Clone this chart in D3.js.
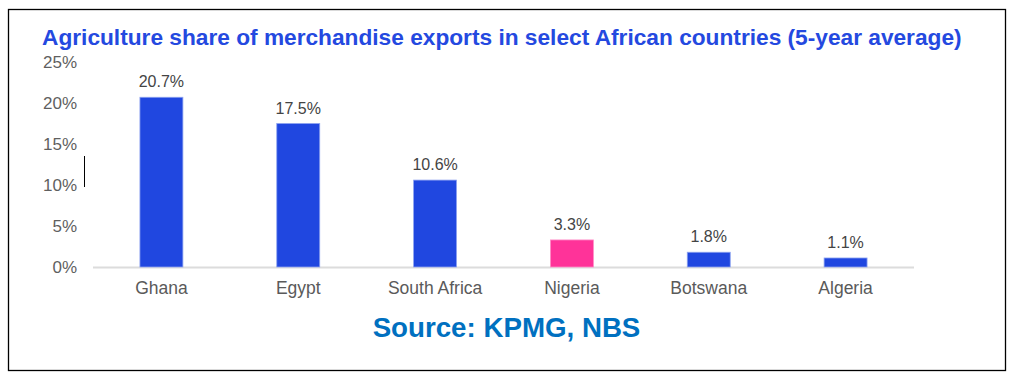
<!DOCTYPE html>
<html><head><meta charset="utf-8">
<script src="https://cdn.jsdelivr.net/npm/d3@7/dist/d3.min.js"></script>
<style>
html,body{margin:0;padding:0;background:#fff;}
svg{display:block;font-family:Arial,"Liberation Sans",sans-serif;}
</style></head>
<body><svg id="c" width="1015" height="383"></svg>
<script>
const categories = ["Ghana","Egypt","South Africa","Nigeria","Botswana","Algeria"];
const values = [20.7,17.5,10.6,3.3,1.8,1.1];
const highlight = ["Nigeria"];
const yTicks = [0,5,10,15,20,25];
const title = "Agriculture share of merchandise exports in select African countries (5-year average)";
const source = "Source: KPMG, NBS";

const svg = d3.select("#c");
svg.append("rect").attr("x",8.5).attr("y",9.5).attr("width",997).attr("height",361)
  .attr("fill","#fff").attr("stroke","#000").attr("stroke-width",1.3);

svg.append("text").attr("x",42).attr("y",45).text(title)
  .attr("font-size",22.7).attr("font-weight","bold").attr("fill","#2449e0");

const x = d3.scaleBand().domain(categories).range([93,914]).paddingInner(0.686).paddingOuter(0.343);
const y = d3.scaleLinear().domain([0,25]).range([267,62]);

// y axis labels
const ya = svg.append("g").attr("transform","translate(77,0)")
  .call(d3.axisLeft(y).tickValues(yTicks).tickFormat(d=>d+"%").tickSize(0).tickPadding(0));
ya.select(".domain").remove();
ya.selectAll("text").attr("font-size",17).attr("fill","#5f5f5f").attr("font-family","Arial,'Liberation Sans',sans-serif");

// baseline
svg.append("line").attr("x1",93).attr("x2",914).attr("y1",y(0)+0.5).attr("y2",y(0)+0.5)
  .attr("stroke","#dcdcdc").attr("stroke-width",2);

// bars
svg.selectAll("rect.bar").data(categories).join("rect").attr("class","bar")
  .attr("x",d=>x(d)).attr("width",x.bandwidth())
  .attr("y",(d,i)=>y(values[i])).attr("height",(d,i)=>y(0)-y(values[i]))
  .attr("fill",d=>highlight.includes(d)?"#ff3399":"#2047e0")
  .attr("stroke",d=>highlight.includes(d)?"#ff8cc6":"#8ea3f0").attr("stroke-width",0.8);

// value labels
svg.selectAll("text.val").data(categories).join("text").attr("class","val")
  .attr("x",d=>x(d)+x.bandwidth()/2).attr("y",(d,i)=>y(values[i])-10)
  .attr("text-anchor","middle").attr("font-size",16).attr("fill","#444")
  .text((d,i)=>values[i].toFixed(1)+"%");

// x axis labels
const xa = svg.append("g").attr("transform",`translate(0,${y(0)})`)
  .call(d3.axisBottom(x).tickSize(0).tickPadding(14.5));
xa.select(".domain").remove();
xa.selectAll("text").attr("font-size",17.5).attr("fill","#5a5a5a").attr("font-family","Arial,'Liberation Sans',sans-serif");

// small artifact line
svg.append("line").attr("x1",84.5).attr("x2",84.5).attr("y1",156).attr("y2",187).attr("stroke","#000").attr("stroke-width",1);

svg.append("text").attr("x",506.5).attr("y",337).attr("text-anchor","middle")
  .attr("font-size",27.7).attr("font-weight","bold").attr("fill","#0070c0").text(source);
</script></body></html>
